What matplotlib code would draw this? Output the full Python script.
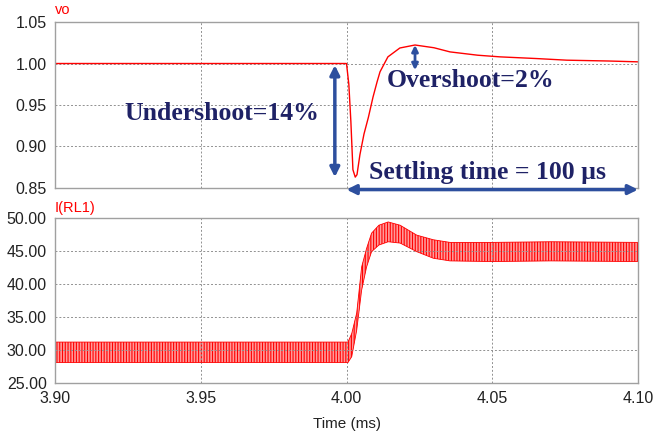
import numpy as np
import matplotlib.pyplot as plt

# output voltage vo
t_vo = [3.90, 4.000, 4.0008, 4.0015, 4.0022, 4.0030, 4.0036, 4.0046, 4.0060,
        4.0075, 4.0091, 4.0105, 4.0115, 4.0142, 4.0183, 4.0235, 4.030, 4.0355,
        4.045, 4.0527, 4.065, 4.0756, 4.09, 4.10]
vo = [1.000, 1.000, 0.975, 0.930, 0.872, 0.863, 0.866, 0.890, 0.915,
      0.935, 0.9596, 0.978, 0.990, 1.008, 1.0187, 1.0223, 1.019, 1.014,
      1.010, 1.008, 1.006, 1.004, 1.003, 1.002]

# load current I(RL1): upper / lower edge of the ripple band
t_i = [3.90, 4.0005, 4.0018, 4.0035, 4.0052, 4.0069, 4.0086, 4.0111, 4.0143,
       4.0184, 4.0241, 4.0298, 4.0355, 4.05, 4.07, 4.10]
i_hi = [31.2, 31.2, 32.5, 35.6, 42.6, 45.4, 47.7, 48.9, 49.4,
        48.9, 47.4, 46.7, 46.3, 46.3, 46.4, 46.3]
i_lo = [28.1, 28.1, 29.0, 33.0, 39.1, 42.6, 44.9, 45.9, 46.4,
        46.2, 44.9, 43.9, 43.5, 43.4, 43.5, 43.4]

xticks = [3.90, 3.95, 4.00, 4.05, 4.10]
vticks = [0.85, 0.90, 0.95, 1.00, 1.05]
iticks = [25, 30, 35, 40, 45, 50]

red = '#ff0000'
navy = '#1f2266'
blue = '#2d4f9e'

plt.rcParams['hatch.color'] = red
plt.rcParams['hatch.linewidth'] = 0.8

fig = plt.figure(figsize=(6.6, 4.32), dpi=100)
ax1 = fig.add_axes([0.0833, 0.565, 0.8834, 0.384])
ax2 = fig.add_axes([0.0833, 0.1134, 0.8834, 0.382])

for ax in (ax1, ax2):
    for s in ax.spines.values():
        s.set_color('#a0a0a0')
        s.set_linewidth(1.0)
    ax.set_xlim(3.90, 4.10)
    ax.set_xticks(xticks)
    ax.grid(True, linestyle=(0, (2, 2)), color='#909090', linewidth=0.7)
    ax.tick_params(length=0, pad=6, labelsize=11.5, labelcolor='#222222')

ax1.plot(t_vo, vo, color=red, lw=1.0)
ax1.set_ylim(0.85, 1.05)
ax1.set_yticks(vticks)
ax1.set_yticklabels(['%.2f' % v for v in vticks], family='Liberation Sans')
ax1.set_xticklabels([])
ax1.text(0.0, 1.05, 'vo', transform=ax1.transAxes, color=red, fontsize=10.5,
         family='Liberation Sans')

ax2.fill_between(t_i, i_lo, i_hi, facecolor='#ff9a9a', edgecolor=red,
                 hatch='||||||', linewidth=0)
ax2.plot(t_i, i_hi, color=red, lw=0.6)
ax2.plot(t_i, i_lo, color=red, lw=0.6)
ax2.set_ylim(25, 50)
ax2.set_yticks(iticks)
ax2.set_yticklabels(['%.2f' % v for v in iticks], family='Liberation Sans')
ax2.set_xticklabels(['%.2f' % v for v in xticks], family='Liberation Sans')
ax2.set_xlabel('Time (ms)', fontsize=11, color='#222222', labelpad=8,
               family='Liberation Sans')
ax2.text(0.0, 1.035, 'I(RL1)', transform=ax2.transAxes, color=red, fontsize=10.5,
         family='Liberation Sans')

aprops = dict(arrowstyle='<|-|>', mutation_scale=14, lw=2.5, color=blue,
              shrinkA=0, shrinkB=0)
ax1.annotate('', xy=(3.996, 0.863), xytext=(3.996, 0.998),
             arrowprops=aprops, annotation_clip=False)
ax1.annotate('', xy=(4.0235, 0.992), xytext=(4.0235, 1.0223),
             arrowprops=dict(aprops, mutation_scale=9, lw=2), annotation_clip=False)
ax1.annotate('', xy=(4.0, 0.848), xytext=(4.10, 0.848),
             arrowprops=aprops, annotation_clip=False)

tfont = dict(family='Liberation Serif', fontweight='bold', color=navy, fontsize=18.5)
ax1.text(3.9573, 0.940, 'Undershoot=14%', ha='center', va='center', **tfont)
ax1.text(4.0427, 0.980, 'Overshoot=2%', ha='center', va='center', **tfont)
ax1.text(4.0485, 0.869, 'Settling time = 100 µs', ha='center', va='center', **tfont)

fig.savefig('out.png', dpi=100)
